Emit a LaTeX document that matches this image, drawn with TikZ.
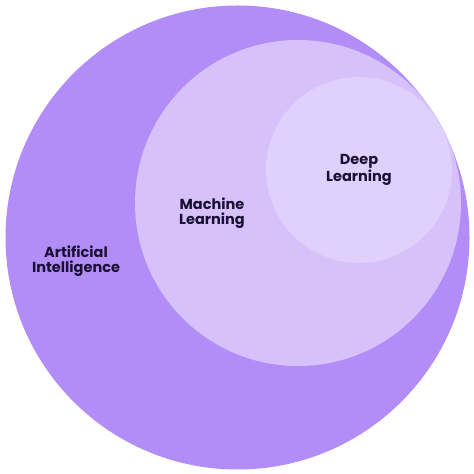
\documentclass[tikz,border=0pt]{standalone}
\usepackage{fontspec}
\setmainfont{Poppins}
\usetikzlibrary{positioning}
\definecolor{aiPurple}{HTML}{B38DF7}
\definecolor{mlPurple}{HTML}{D6C1FA}
\definecolor{dlPurple}{HTML}{E0D0FC}
\definecolor{labelInk}{HTML}{1A1033}
\tikzset{
	every node/.style = {font=\fontsize{14.5}{15}\selectfont\bfseries, text=labelInk, align=center}
}
\begin{document}
\begin{tikzpicture}[x=1pt,y=1pt]
        \def\rA{232}                                % AI radius
        \def\rM{163}                                % ML radius
        \def\rD{93}                                 % DL radius

        \useasboundingbox (0,0) rectangle (474,474);
        \fill[white] (0,0) rectangle (474,474);

        % Nested sets, outermost first
        \fill[aiPurple] (237.5,236.5) circle (\rA);
        \fill[mlPurple] (298,271) circle (\rM);
        \fill[dlPurple] (359,304) circle (\rD);

        % Labels
        \node (ai) at (76,213) {Artificial\\Intelligence};
        \node (ml) at (212,261) {Machine\\Learning};
        \node (dl) at (359,304) {Deep\\Learning};
    \end{tikzpicture}
\end{document}
